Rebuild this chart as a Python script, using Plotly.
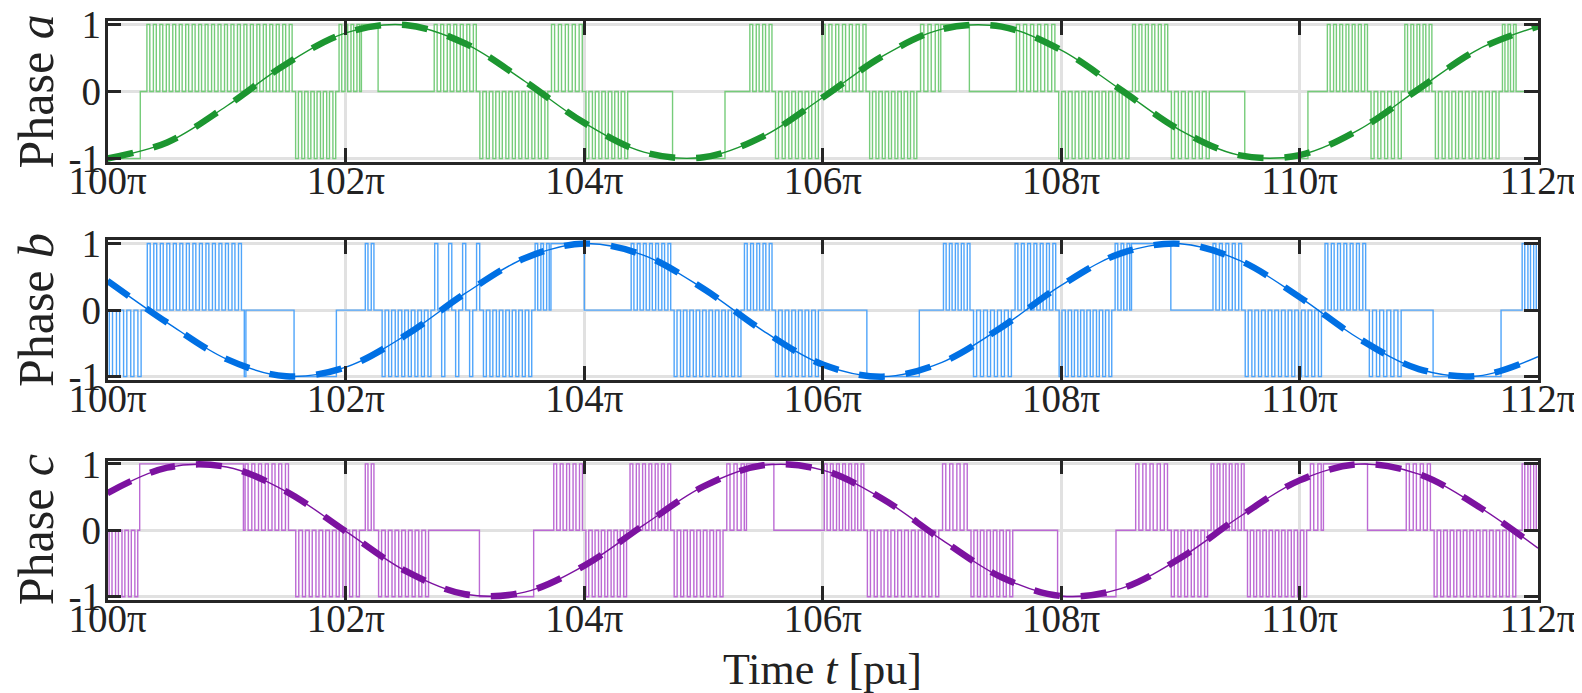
import plotly.graph_objects as go

# ---------------- data (time in units of pi) ----------------
t_ref = [100.0, 100.5, 101.0, 101.5, 102.0, 102.5, 103.0, 103.5, 104.0, 104.5,
         105.0, 105.5, 106.0, 106.5, 107.0, 107.5, 108.0, 108.5, 109.0, 109.5,
         110.0, 110.5, 111.0, 111.5, 112.0]

ref_a = [-0.998, -0.758, -0.216, 0.411, 0.874, 0.991, 0.714, 0.153, -0.468, -0.904,
         -0.980, -0.668, -0.090, 0.524, 0.929, 0.966, 0.618, 0.026, -0.578, -0.951,
         -0.947, -0.567, 0.038, 0.629, 0.969]
ref_b = [0.438, -0.187, -0.737, -0.995, -0.857, -0.379, 0.250, 0.779, 0.999, 0.823,
         0.319, -0.311, -0.818, -1.000, -0.785, -0.258, 0.371, 0.853, 0.996, 0.743,
         0.195, -0.430, -0.885, -0.988, -0.699]
ref_c = [0.560, 0.944, 0.954, 0.584, -0.017, -0.612, -0.963, -0.932, -0.531, 0.081,
         0.661, 0.979, 0.907, 0.476, -0.145, -0.708, -0.990, -0.879, -0.418, 0.208,
         0.752, 0.997, 0.846, 0.359, -0.270]

# switching segments: [start, end, mode]  (P = switching bursts, H = held level)
seg_a = [
    [100.00, 100.275, "H-"], [100.275, 100.317, "H0"], [100.317, 101.565, "P+"],
    [101.565, 101.93, "P-"], [101.93, 102.13, "P+"], [102.13, 102.27, "H+"],
    [102.27, 102.727, "H0"], [102.727, 103.11, "P+"], [103.11, 103.71, "P-"],
    [103.71, 104.0, "P+"], [104.0, 104.38, "P-"], [104.38, 104.74, "H0"],
    [104.74, 105.18, "H-"], [105.18, 105.375, "H0"], [105.375, 105.59, "P+"],
    [105.59, 105.98, "P-"], [105.98, 106.38, "P+"], [106.38, 106.805, "P-"],
    [106.805, 106.99, "P+"], [106.99, 107.23, "H+"], [107.23, 107.61, "H0"],
    [107.61, 107.965, "P+"], [107.965, 108.585, "P-"], [108.585, 108.91, "P+"],
    [108.91, 109.26, "P-"], [109.26, 109.54, "H0"], [109.54, 110.07, "H-"],
    [110.07, 110.22, "H0"], [110.22, 110.585, "P+"], [110.585, 110.87, "P-"],
    [110.87, 111.125, "P+"], [111.125, 111.69, "P-"], [111.69, 111.83, "P+"],
    [111.83, 112.0, "H0"],
]
seg_b = [
    [100.0, 100.30, "P-"], [100.30, 100.32, "H0"], [100.32, 101.14, "P+"],
    [101.14, 101.17, "P-"], [101.17, 101.565, "H0"], [101.565, 101.92, "H-"],
    [101.92, 102.15, "H0"], [102.15, 102.25, "P+"], [102.25, 102.29, "H0"],
    [102.29, 102.73, "P-"], [102.73, 103.14, "P±"], [103.14, 103.575, "P-"],
    [103.575, 103.72, "P+"], [103.72, 104.0, "H+"], [104.0, 104.38, "H0"],
    [104.38, 104.74, "P+"], [104.74, 105.33, "P-"], [105.33, 105.59, "P+"],
    [105.59, 105.98, "P-"], [105.98, 106.37, "H0"], [106.37, 106.81, "H-"],
    [106.81, 107.0, "H0"], [107.0, 107.25, "P+"], [107.25, 107.60, "P-"],
    [107.60, 107.97, "P+"], [107.97, 108.44, "P-"], [108.44, 108.59, "P+"],
    [108.59, 108.92, "H+"], [108.92, 109.26, "H0"], [109.26, 109.53, "P+"],
    [109.53, 110.20, "P-"], [110.20, 110.57, "P+"], [110.57, 110.87, "P-"],
    [110.87, 111.12, "H0"], [111.12, 111.69, "H-"], [111.69, 111.855, "H0"],
    [111.855, 112.0, "P+"],
]
seg_c = [
    [100.0, 100.27, "P-"], [100.27, 101.14, "H+"], [101.14, 101.535, "P+"],
    [101.535, 101.565, "H0"], [101.565, 102.13, "P-"], [102.13, 102.15, "H0"],
    [102.15, 102.25, "P+"], [102.25, 102.26, "H0"], [102.26, 102.71, "P-"],
    [102.71, 103.12, "H0"], [103.12, 103.575, "H-"], [103.575, 103.73, "H0"],
    [103.73, 104.0, "P+"], [104.0, 104.37, "P-"], [104.37, 104.74, "P+"],
    [104.74, 105.18, "P-"], [105.18, 105.36, "P+"], [105.36, 105.59, "H+"],
    [105.59, 106.0, "H0"], [106.0, 106.36, "P+"], [106.36, 106.99, "P-"],
    [106.99, 107.23, "P+"], [107.23, 107.61, "P-"], [107.61, 107.97, "H0"],
    [107.97, 108.46, "H-"], [108.46, 108.61, "H0"], [108.61, 108.91, "P+"],
    [108.91, 109.245, "P-"], [109.245, 109.55, "P+"], [109.55, 110.075, "P-"],
    [110.075, 110.20, "P+"], [110.20, 110.57, "H+"], [110.57, 110.88, "H0"],
    [110.88, 111.115, "P+"], [111.115, 111.83, "P-"], [111.83, 111.855, "H0"],
    [111.855, 112.0, "P+"],
]

carrier_pitch = 0.055   # switching period read from the bursts (units of pi)
pulse_duty = 0.45

x_ticks = [100, 102, 104, 106, 108, 110, 112]
x_ticktext = ["100π", "102π", "104π", "106π", "108π", "110π", "112π"]
y_ticks = [-1, 0, 1]
y_ticktext = ["-1", "0", "1"]
phase_names = ["Phase <i>a</i>", "Phase <i>b</i>", "Phase <i>c</i>"]


def build_switching(segs):
    xs, ys = [], []
    hold = {"H+": 1, "H0": 0, "H-": -1}
    burst = {"P+": [1], "P-": [-1], "P±": [1, -1]}
    for t0, t1, mode in segs:
        if mode in hold:
            L = hold[mode]
            xs += [t0, t1]
            ys += [L, L]
        else:
            levels = burst[mode]
            n = max(1, int(round((t1 - t0) / carrier_pitch)))
            step = (t1 - t0) / n
            xs.append(t0)
            ys.append(0)
            for k in range(n):
                ts = t0 + (k + 0.25) * step
                te = ts + pulse_duty * step
                L = levels[k % len(levels)]
                xs += [ts, ts, te, te]
                ys += [0, L, L, 0]
            xs.append(t1)
            ys.append(0)
    return xs, ys


pulse_colors = ["rgb(118,204,122)", "rgb(80,165,250)", "rgb(188,106,212)"]
line_colors = ["rgb(28,150,48)", "rgb(0,112,228)", "rgb(124,18,160)"]
segs_all = [seg_a, seg_b, seg_c]
refs_all = [ref_a, ref_b, ref_c]

# the page body adds an 8px offset: the figure is sized to fill the window after it
OFF = 8
W, H = 1582 - OFF, 693 - OFF
x_dom = [(107.5 - OFF) / W, (1538 - OFF) / W]
y_px = [(21, 162), (240.2, 380), (460.6, 600)]
y_doms = [[1 - (b - OFF) / H, 1 - (t - OFF) / H] for t, b in y_px]

fig = go.Figure()
for i in range(3):
    xa = "x" if i == 0 else f"x{i+1}"
    ya = "y" if i == 0 else f"y{i+1}"
    sx, sy = build_switching(segs_all[i])
    fig.add_trace(go.Scatter(x=sx, y=sy, mode="lines", xaxis=xa, yaxis=ya,
                             line=dict(color=pulse_colors[i], width=1.4),
                             hoverinfo="skip", showlegend=False))
    fig.add_trace(go.Scatter(x=t_ref, y=refs_all[i], mode="lines", xaxis=xa, yaxis=ya,
                             line=dict(color=line_colors[i], width=1.4, shape="spline"),
                             showlegend=False))
    fig.add_trace(go.Scatter(x=t_ref, y=refs_all[i], mode="lines", xaxis=xa, yaxis=ya,
                             line=dict(color=line_colors[i], width=6.5, shape="spline",
                                       dash="26px,21px"),
                             showlegend=False))

axis_common = dict(showline=True, linewidth=2.5, linecolor="#262626", mirror="allticks",
                   ticks="inside", ticklen=14, tickwidth=2.5, tickcolor="#262626",
                   showgrid=True, gridcolor="#e1e1e1", gridwidth=2.5, zeroline=False,
                   automargin=False, ticklabeloverflow="allow",
                   tickfont=dict(size=39, color="#222222", family="Liberation Serif"))

layout = dict(width=W, height=H, margin=dict(l=0, r=0, t=0, b=0, autoexpand=False),
              paper_bgcolor="white", plot_bgcolor="white",
              font=dict(family="Liberation Serif", color="#222222"))
annotations = []
for i in range(3):
    xk = "xaxis" if i == 0 else f"xaxis{i+1}"
    yk = "yaxis" if i == 0 else f"yaxis{i+1}"
    ya = "y" if i == 0 else f"y{i+1}"
    xa = "x" if i == 0 else f"x{i+1}"
    layout[xk] = dict(axis_common, domain=x_dom, range=[100, 112], anchor=ya,
                      tickvals=x_ticks, ticktext=x_ticktext, ticklabelstandoff=-18)
    layout[yk] = dict(axis_common, domain=y_doms[i], range=[-1.05, 1.05], anchor=xa,
                      tickvals=y_ticks, ticktext=y_ticktext, ticklabelstandoff=-4)
    yc = (y_doms[i][0] + y_doms[i][1]) / 2
    annotations.append(dict(text=phase_names[i], x=(36 - OFF) / W, y=yc,
                            xref="paper", yref="paper",
                            showarrow=False, textangle=-90, xanchor="center", yanchor="middle",
                            font=dict(size=50, color="#222222", family="Liberation Serif")))
annotations.append(dict(text="Time <i>t</i> [pu]", x=(x_dom[0] + x_dom[1]) / 2,
                        y=1 - (669 - OFF) / H,
                        xref="paper", yref="paper", showarrow=False,
                        xanchor="center", yanchor="middle",
                        font=dict(size=44, color="#222222", family="Liberation Serif")))
layout["annotations"] = annotations
fig.update_layout(**layout)
fig.write_html("out.html")
